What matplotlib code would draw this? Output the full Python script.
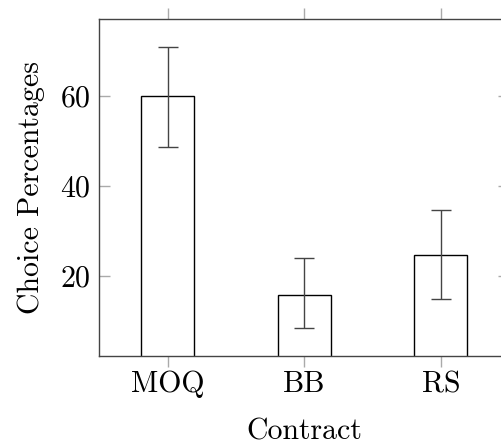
import matplotlib
matplotlib.use("Agg")
import matplotlib.pyplot as plt
import numpy as np

contracts = ["MOQ", "BB", "RS"]
choice_pct = [60.0, 15.6, 24.5]
err_lower = [11.4, 7.2, 9.8]
err_upper = [10.9, 8.4, 10.1]

plt.rcParams["font.family"] = "serif"
plt.rcParams["font.serif"] = ["cmr10", "DejaVu Serif"]
plt.rcParams["axes.formatter.use_mathtext"] = True

fig = plt.figure(figsize=(5.02, 4.47), dpi=100)
ax = fig.add_axes([0.198, 0.2043, 1.014 - 0.198, 0.9575 - 0.2043])

x = np.arange(len(contracts))
ax.bar(x, choice_pct, width=0.39, facecolor="white", edgecolor="black", linewidth=1.0)
ax.errorbar(x, choice_pct, yerr=[err_lower, err_upper], fmt="none",
            ecolor="#444444", elinewidth=1.0, capsize=7, capthick=1.0)

ax.set_xlim(-0.5, 2.5)
ax.set_ylim(2.19, 77.14)
ax.set_xticks(x)
ax.set_xticklabels(contracts)
ax.set_yticks([20, 40, 60])

for spine in ax.spines.values():
    spine.set_color("#444444")
    spine.set_linewidth(1.0)

fs = 21.5
ax.tick_params(axis="x", direction="out", length=8, width=1, color="#aaaaaa",
               top=True, labelsize=fs, pad=3)
ax.tick_params(axis="y", direction="in", length=8, width=1, color="#aaaaaa",
               right=True, labelsize=fs, pad=6)

ax.set_xlabel("Contract", fontsize=fs, labelpad=14)
ax.set_ylabel("Choice Percentages", fontsize=fs, labelpad=11)

fig.savefig("out.png", dpi=100)
